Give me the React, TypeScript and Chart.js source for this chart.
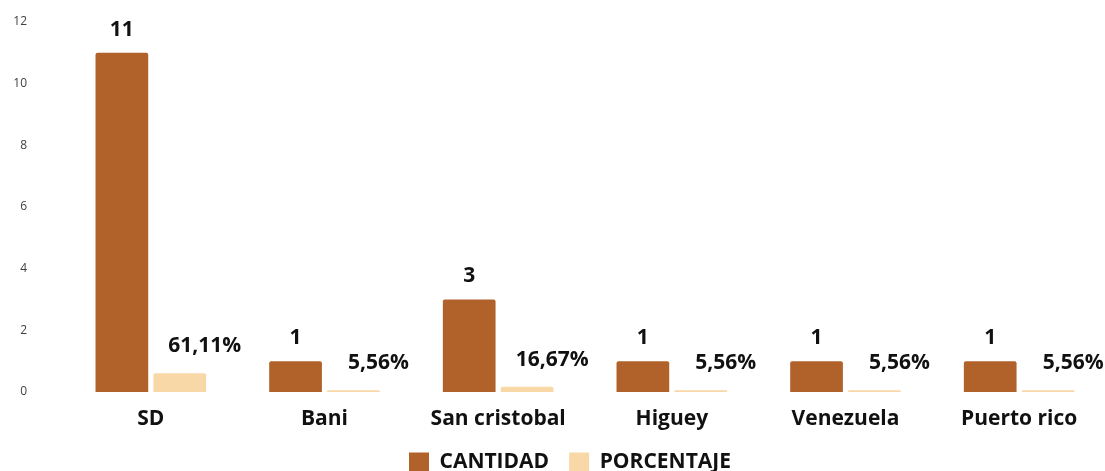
import React, { useEffect, useRef } from "react";
import { Chart, registerables } from "chart.js";

Chart.register(...registerables);

const categories = ["SD", "Bani", "San cristobal", "Higuey", "Venezuela", "Puerto rico"];
const cantidad = [11, 1, 3, 1, 1, 1];
const porcentaje = [0.6111, 0.0556, 0.1667, 0.0556, 0.0556, 0.0556];
const yTicks = [0, 2, 4, 6, 8, 10, 12];

const BROWN = "#B1622A";
const PEACH = "#F9D8A8";
const FONT = "'Open Sans', sans-serif";

const fmtPct = (v: number) => (v * 100).toFixed(2).replace(".", ",") + "%";

// Draws the value above each bar: counts centred, percentages nudged to the right
const valueLabels = {
  id: "valueLabels",
  afterDatasetsDraw(chart: any) {
    const { ctx } = chart;
    ctx.save();
    ctx.font = `bold 21px ${FONT}`;
    ctx.fillStyle = "#111111";
    ctx.textAlign = "center";
    ctx.textBaseline = "middle";
    chart.data.datasets.forEach((ds: any, di: number) => {
      const meta = chart.getDatasetMeta(di);
      meta.data.forEach((bar: any, i: number) => {
        const v = ds.data[i] as number;
        if (di === 0) {
          ctx.fillText(String(v), bar.x, bar.y - 23);
        } else {
          ctx.fillText(fmtPct(v), bar.x + 25, bar.y - 27);
        }
      });
    });
    ctx.restore();
  },
};

export default function App() {
  const ref = useRef<HTMLCanvasElement | null>(null);

  useEffect(() => {
    if (!ref.current) return;
    const chart = new Chart(ref.current, {
      type: "bar",
      data: {
        labels: categories,
        datasets: [
          {
            label: "CANTIDAD",
            data: cantidad,
            backgroundColor: BROWN,
            borderWidth: 0,
            borderRadius: 2,
            categoryPercentage: 0.667,
            barPercentage: 0.91,
            yAxisID: "y",
          },
          {
            label: "PORCENTAJE",
            data: porcentaje,
            backgroundColor: PEACH,
            borderWidth: 0,
            borderRadius: 2,
            categoryPercentage: 0.667,
            barPercentage: 0.91,
            yAxisID: "y",
          },
        ],
      },
      options: {
        animation: false,
        responsive: false,
        maintainAspectRatio: false,
        layout: { padding: { top: 22, left: 0, right: 0, bottom: 0 } },
        plugins: {
          legend: {
            position: "bottom",
            labels: {
              boxWidth: 20,
              boxHeight: 20,
              padding: 20,
              color: "#111111",
              font: { family: FONT, size: 21, weight: "bold" },
            },
          },
          tooltip: { enabled: false },
        },
        scales: {
          x: {
            grid: { display: false },
            border: { display: false },
            ticks: {
              padding: 6,
              color: "#111111",
              font: { family: FONT, size: 21, weight: "bold" },
            },
            afterFit: (s: any) => {
              s.height = 40;
            },
          },
          y: {
            min: 0,
            max: 12,
            afterBuildTicks: (s: any) => {
              s.ticks = yTicks.map((v) => ({ value: v }));
            },
            grid: { display: false },
            border: { display: false },
            ticks: {
              padding: 29,
              color: "#404040",
              font: { family: FONT, size: 12 },
            },
            afterFit: (s: any) => {
              s.width = 64;
              // tick padding is only horizontal here; keep it off the plot's top/bottom
              s.paddingTop = 0;
              s.paddingBottom = 0;
            },
          },
          // empty spacer on the right so the plot ends before the legend row does
          y2: {
            position: "right",
            display: true,
            grid: { display: false },
            border: { display: false },
            ticks: { display: false },
            afterFit: (s: any) => {
              s.width = 34;
            },
          },
        },
      },
      plugins: [valueLabels],
    });
    return () => chart.destroy();
  }, []);

  return (
    <div
      style={{
        position: "fixed",
        left: 0,
        top: 0,
        width: 1105,
        height: 471,
        overflow: "hidden",
        background: "#ffffff",
      }}
    >
      <canvas ref={ref} width={1140} height={483} style={{ display: "block" }} />
    </div>
  );
}
